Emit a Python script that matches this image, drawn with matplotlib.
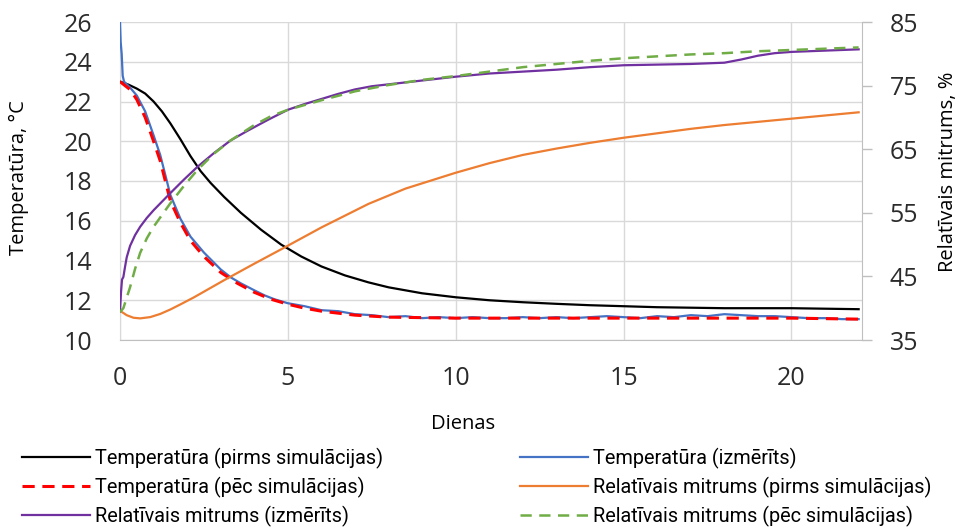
import matplotlib
matplotlib.use("Agg")
import matplotlib.pyplot as plt

# Temperatura (pirms simulacijas)
black_days = [0, 0.25, 0.5, 0.75, 1.0, 1.25, 1.5, 1.8, 2.1, 2.4, 2.7, 3.1, 3.6, 4.2, 4.8, 5.4, 6,
              6.7, 7.4, 8, 9, 10, 11, 12, 13, 14, 16, 18, 20, 22]
black_temp = [23.0, 22.85, 22.65, 22.4, 22.0, 21.5, 20.9, 20.1, 19.25, 18.5, 17.9, 17.2, 16.4,
              15.55, 14.8, 14.2, 13.7, 13.25, 12.9, 12.65, 12.35, 12.15, 12.0, 11.9, 11.82, 11.75,
              11.65, 11.6, 11.6, 11.55]

# Temperatura (izmerits)
blue_days = [0, 0.02, 0.05, 0.08, 0.12, 0.3, 0.5, 0.75, 1.0, 1.2, 1.5, 1.8, 2.1, 2.5, 3.0, 3.3,
             3.6, 4.0, 4.3, 4.6, 5.0, 5.5, 6.0, 6.5, 7.0, 7.5, 8.0, 8.5, 9.0, 9.5, 10, 10.5, 11,
             11.5, 12, 12.5, 13, 13.5, 14, 14.5, 15, 15.5, 16, 16.5, 17, 17.5, 18, 18.5, 19, 19.5,
             20, 20.5, 21, 21.5, 22]
blue_temp = [26.0, 25.0, 24.4, 23.3, 23.0, 22.7, 22.3, 21.5, 20.3, 19.3, 17.3, 16.1, 15.2, 14.4,
             13.55, 13.15, 12.85, 12.5, 12.25, 12.05, 11.85, 11.7, 11.5, 11.45, 11.3, 11.25, 11.15,
             11.2, 11.1, 11.15, 11.1, 11.15, 11.1, 11.1, 11.15, 11.1, 11.15, 11.1, 11.15, 11.2,
             11.15, 11.1, 11.2, 11.15, 11.25, 11.2, 11.3, 11.25, 11.2, 11.2, 11.15, 11.1, 11.1,
             11.05, 11.05]

# Temperatura (pec simulacijas)
red_days = [0, 0.3, 0.5, 0.75, 1.0, 1.2, 1.5, 1.8, 2.1, 2.5, 3.0, 3.5, 4.0, 4.5, 5.0, 5.5, 6, 7, 8,
            10, 12, 15, 18, 20, 22]
red_temp = [23.0, 22.6, 22.1, 21.2, 20.0, 19.0, 17.0, 15.9, 15.0, 14.2, 13.4, 12.85, 12.4, 12.05,
            11.8, 11.6, 11.45, 11.25, 11.15, 11.1, 11.1, 11.1, 11.1, 11.1, 11.05]

# Relativais mitrums (pirms simulacijas)
orange_days = [0, 0.2, 0.4, 0.6, 0.9, 1.2, 1.5, 1.8, 2.2, 2.6, 3.1, 4, 4.85, 6, 7.4, 8.5, 10, 11,
               12, 13, 14, 15, 16, 17, 18, 19, 20, 21, 22]
orange_rh = [39.6, 38.9, 38.5, 38.4, 38.6, 39.1, 39.8, 40.6, 41.7, 42.9, 44.4, 47.0, 49.4, 52.7,
             56.4, 58.8, 61.3, 62.8, 64.1, 65.1, 66.0, 66.8, 67.5, 68.2, 68.8, 69.3, 69.8, 70.3,
             70.8]

# Relativais mitrums (izmerits)
purple_days = [0, 0.03, 0.06, 0.1, 0.15, 0.2, 0.3, 0.45, 0.6, 0.8, 1.0, 1.5, 1.9, 2.3, 2.8, 3.3,
               3.8, 4.4, 5, 5.5, 6, 6.5, 7, 7.5, 8, 9, 10, 11, 12, 13, 14, 15, 16, 17, 18, 18.5,
               19, 19.5, 20, 21, 22]
purple_rh = [39.5, 42.5, 44.5, 44.9, 46.5, 48.0, 49.8, 51.5, 52.8, 54.2, 55.4, 58.1, 60.2, 62.2,
             64.4, 66.4, 67.9, 69.6, 71.2, 72.1, 72.9, 73.7, 74.4, 74.9, 75.2, 75.8, 76.4, 76.9,
             77.2, 77.5, 77.9, 78.2, 78.3, 78.4, 78.6, 79.1, 79.7, 80.1, 80.3, 80.5, 80.7]

# Relativais mitrums (pec simulacijas)
green_days = [0, 0.1, 0.3, 0.45, 0.6, 0.8, 1.0, 1.5, 1.9, 2.3, 2.8, 3.3, 4, 4.5, 5, 6, 7, 8, 9, 10,
              11, 12, 13, 14, 15, 16, 17, 18, 19, 20, 21, 22]
green_rh = [39.4, 40.0, 43.3, 46.2, 48.7, 51.0, 52.8, 56.5, 59.2, 61.7, 64.3, 66.4, 68.8, 70.2,
            71.2, 72.7, 74.1, 75.1, 75.9, 76.5, 77.2, 77.9, 78.4, 78.9, 79.3, 79.6, 79.9, 80.1,
            80.4, 80.6, 80.8, 81.0]

labels = ["Temperatūra (pirms simulācijas)", "Temperatūra (izmērīts)",
          "Temperatūra (pēc simulācijas)", "Relatīvais mitrums (pirms simulācijas)",
          "Relatīvais mitrums (izmērīts)", "Relatīvais mitrums (pēc simulācijas)"]

x_ticks = [0, 5, 10, 15, 20]
t_ticks = [10, 12, 14, 16, 18, 20, 22, 24, 26]
rh_ticks = [35, 45, 55, 65, 75, 85]

text_col = "#2b2b2b"
grid_col = "#d9d9d9"
spine_col = "#bfbfbf"
tick_family = ["Open Sans", "DejaVu Sans"]

fig = plt.figure(figsize=(9.66, 5.28), dpi=100)
ax = fig.add_axes([120 / 966, 1 - 340 / 528, 742 / 966, 318 / 528])
ax2 = ax.twinx()

lw = 1.6
l_black, = ax.plot(black_days, black_temp, color="black", lw=lw, zorder=3)
l_blue, = ax.plot(blue_days, blue_temp, color="#4472C4", lw=lw, zorder=4)
l_red, = ax.plot(red_days, red_temp, color="#FF0000", lw=2.2, ls=(0, (4, 2.5)), zorder=5)
l_orange, = ax2.plot(orange_days, orange_rh, color="#ED7D31", lw=lw)
l_purple, = ax2.plot(purple_days, purple_rh, color="#7030A0", lw=lw)
l_green, = ax2.plot(green_days, green_rh, color="#70AD47", lw=1.8, ls=(0, (4.5, 3)))

ax.set_xlim(0, 22.1)
ax.set_ylim(10, 26)
ax2.set_ylim(35, 85)
ax.set_xticks(x_ticks)
ax.set_yticks(t_ticks)
ax2.set_yticks(rh_ticks)

ax.grid(True, color=grid_col, lw=1)
ax.set_axisbelow(True)

for s in ["top", "right"]:
    ax.spines[s].set_visible(False)
for s in ["top", "left", "bottom"]:
    ax2.spines[s].set_visible(False)
ax.spines["left"].set_color(grid_col)
ax.spines["bottom"].set_color(spine_col)
ax2.spines["right"].set_color(spine_col)

ax.tick_params(axis="both", length=0, colors=text_col)
ax.tick_params(axis="y", pad=20)
ax.tick_params(axis="x", pad=19)
ax2.tick_params(axis="y", length=7, width=1, color=spine_col, labelcolor=text_col, pad=13)
for lab in ax.get_xticklabels() + ax.get_yticklabels() + ax2.get_yticklabels():
    lab.set_fontfamily(tick_family)
    lab.set_fontsize(18)

lab_font = ["Open Sans", "DejaVu Sans"]
ax.set_ylabel("Temperatūra, °C", fontsize=14.5, family=lab_font, color="black")
ax.yaxis.set_label_coords(-0.122, 0.51)
ax2.set_ylabel("Relatīvais mitrums, %", fontsize=14.5, family=lab_font, color="black")
ax2.yaxis.set_label_coords(1.102, 0.53)
ax.set_xlabel("Dienas", fontsize=14.5, family=lab_font, color="black")
ax.xaxis.set_label_coords(0.463, -0.232)

leg_prop = {"family": ["Roboto", "DejaVu Sans"], "size": 14.3}
leg_kw = dict(loc="upper left", frameon=False, prop=leg_prop, handlelength=3.4,
              handletextpad=0.3, labelspacing=0.4, borderpad=0, borderaxespad=0)
fig.legend([l_black, l_red, l_purple], [labels[0], labels[2], labels[4]],
           bbox_to_anchor=(22 / 966, 1 - 448 / 528), **leg_kw)
fig.legend([l_blue, l_orange, l_green], [labels[1], labels[3], labels[5]],
           bbox_to_anchor=(520 / 966, 1 - 448 / 528), **leg_kw)

fig.savefig("out.png", dpi=100)
